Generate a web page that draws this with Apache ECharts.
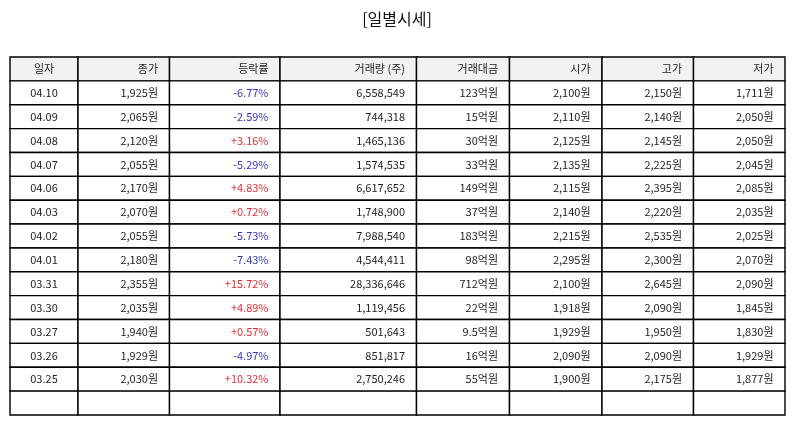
<!DOCTYPE html>
<html>
<head>
<meta charset="utf-8">
<script src="https://cdn.jsdelivr.net/npm/echarts@6/dist/echarts.min.js"></script>
<style>
html,body{margin:0;padding:0;background:#fff;}
#chart{width:794px;height:425px;}
</style>
</head>
<body>
<div id="chart"></div>
<script>
// ---- data ----
var headers = ['일자', '종가', '등락률', '거래량 (주)', '거래대금', '시가', '고가', '저가'];
var dates = ['04.10','04.09','04.08','04.07','04.06','04.03','04.02','04.01','03.31','03.30','03.27','03.26','03.25'];
var closePrice = [1925, 2065, 2120, 2055, 2170, 2070, 2055, 2180, 2355, 2035, 1940, 1929, 2030];
var changeRate = [-6.77, -2.59, 3.16, -5.29, 4.83, 0.72, -5.73, -7.43, 15.72, 4.89, 0.57, -4.97, 10.32];
var volume = [6558549, 744318, 1465136, 1574535, 6617652, 1748900, 7988540, 4544411, 28336646, 1119456, 501643, 851817, 2750246];
var tradeAmount = [123, 15, 30, 33, 149, 37, 183, 98, 712, 22, 9.5, 16, 55]; // 억원
var openPrice = [2100, 2110, 2125, 2135, 2115, 2140, 2215, 2295, 2100, 1918, 1929, 2090, 1900];
var highPrice = [2150, 2140, 2145, 2225, 2395, 2220, 2535, 2300, 2645, 2090, 1950, 2090, 2175];
var lowPrice = [1711, 2050, 2050, 2045, 2085, 2035, 2025, 2070, 2090, 1845, 1830, 1929, 1877];

// ---- layout (column widths in px) ----
var colWidths = [68, 91.5, 110.5, 136.5, 93, 92.5, 91.5, 91.5];
var colEdges = [0];
colWidths.forEach(function (w, i) { colEdges.push(colEdges[i] + w); });
var totalW = colEdges[colEdges.length - 1];

function fmt(n) { return n.toLocaleString('en-US'); }
function won(n) { return fmt(n) + '원'; }
function pct(n) { return (n > 0 ? '+' : '') + n.toFixed(2) + '%'; }

var RED = '#e0303a', BLUE = '#3535c8', TXT = '#222';

var rowNames = ['header'].concat(dates).concat(['blank']);
var cells = [];
headers.forEach(function (h, c) { cells.push({ value: [c, 0], text: h, color: TXT }); });
dates.forEach(function (d, i) {
  var r = i + 1;
  var vals = [d, won(closePrice[i]), pct(changeRate[i]), fmt(volume[i]), tradeAmount[i] + '억원',
              won(openPrice[i]), won(highPrice[i]), won(lowPrice[i])];
  vals.forEach(function (v, c) {
    var col = TXT;
    if (c === 2) col = changeRate[i] > 0 ? RED : BLUE;
    cells.push({ value: [c, r], text: v, color: col });
  });
});
for (var c = 0; c < headers.length; c++) cells.push({ value: [c, rowNames.length - 1], text: '', color: TXT });

var chart = echarts.init(document.getElementById('chart'));
chart.setOption({
  backgroundColor: '#fff',
  animation: false,
  title: {
    text: '[일별시세]', left: 'center', top: 6,
    textStyle: { fontFamily: 'Noto Sans CJK KR', fontSize: 16, fontWeight: 'normal', color: '#111' }
  },
  grid: { left: 10, right: 9, top: 57, bottom: 10 },
  xAxis: { type: 'value', min: 0, max: totalW, show: false },
  yAxis: { type: 'category', data: rowNames, inverse: true, show: false },
  series: [{
    type: 'custom',
    data: cells,
    renderItem: function (params, api) {
      var c = api.value(0), r = api.value(1);
      var item = cells[params.dataIndex];
      var p0 = api.coord([colEdges[c], r]);
      var p1 = api.coord([colEdges[c + 1], r]);
      var h = api.size([0, 1])[1];
      var x0 = p0[0], x1 = p1[0], yc = p0[1];
      var isFirst = c === 0;
      return {
        type: 'group',
        children: [{
          type: 'rect',
          shape: { x: x0, y: yc - h / 2, width: x1 - x0, height: h },
          style: { fill: r === 0 ? '#f2f2f2' : '#fff', stroke: '#000', lineWidth: 1.4 }
        }, {
          type: 'text',
          style: {
            x: isFirst ? (x0 + x1) / 2 : x1 - 11.5,
            y: yc,
            text: item.text,
            fill: item.color,
            align: isFirst ? 'center' : 'right',
            verticalAlign: 'middle',
            font: '11px "Noto Sans CJK KR"'
          }
        }]
      };
    }
  }]
});
</script>
</body>
</html>
